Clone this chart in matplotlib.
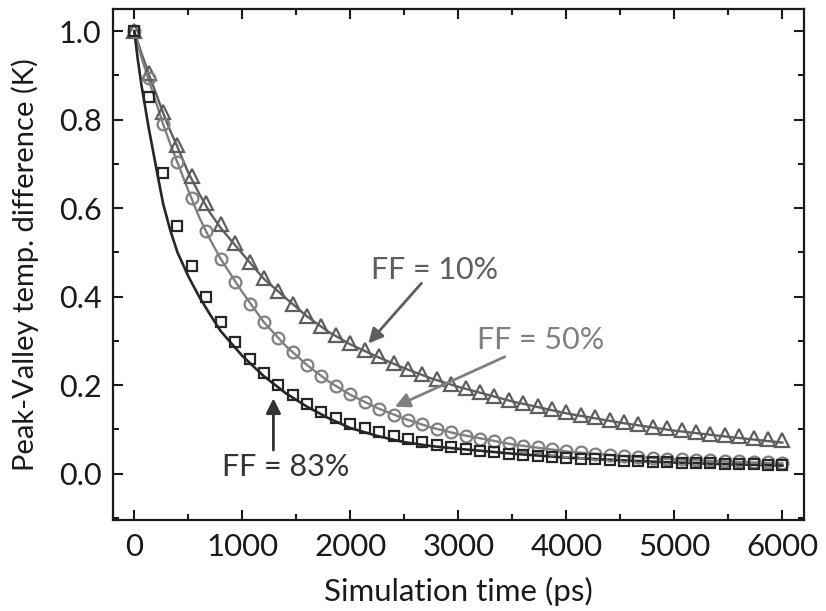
import numpy as np
import matplotlib
matplotlib.use("Agg")
import matplotlib.pyplot as plt
from matplotlib.ticker import MultipleLocator, FormatStrFormatter

plt.rcParams['font.family'] = ['Lato', 'DejaVu Sans']

# Simulation samples (ps), one every 6000/45 ps
t_sim = [0, 133, 267, 400, 533, 667, 800, 933, 1067, 1200, 1333, 1467, 1600,
         1733, 1867, 2000, 2133, 2267, 2400, 2533, 2667, 2800, 2933, 3067,
         3200, 3333, 3467, 3600, 3733, 3867, 4000, 4133, 4267, 4400, 4533,
         4667, 4800, 4933, 5067, 5200, 5333, 5467, 5600, 5733, 5867, 6000]

ff10_sim = [1.000, 0.905, 0.818, 0.742, 0.672, 0.612, 0.563, 0.520, 0.478,
            0.443, 0.412, 0.383, 0.357, 0.334, 0.313, 0.295, 0.280, 0.265,
            0.251, 0.237, 0.225, 0.213, 0.203, 0.193, 0.184, 0.175, 0.167,
            0.159, 0.152, 0.145, 0.139, 0.133, 0.127, 0.121, 0.116, 0.111,
            0.106, 0.102, 0.098, 0.094, 0.090, 0.087, 0.084, 0.081, 0.078, 0.075]

ff50_sim = [1.000, 0.895, 0.790, 0.705, 0.622, 0.548, 0.485, 0.432, 0.384,
            0.342, 0.306, 0.274, 0.245, 0.220, 0.198, 0.179, 0.162, 0.147,
            0.133, 0.121, 0.111, 0.101, 0.093, 0.086, 0.079, 0.073, 0.068,
            0.063, 0.059, 0.055, 0.051, 0.048, 0.045, 0.042, 0.040, 0.038,
            0.036, 0.034, 0.033, 0.031, 0.030, 0.029, 0.028, 0.027, 0.026, 0.025]

ff83_sim = [1.000, 0.850, 0.680, 0.560, 0.470, 0.400, 0.343, 0.297, 0.258,
            0.227, 0.200, 0.178, 0.157, 0.140, 0.126, 0.113, 0.102, 0.093,
            0.085, 0.078, 0.071, 0.065, 0.060, 0.056, 0.052, 0.048, 0.045,
            0.042, 0.040, 0.038, 0.036, 0.034, 0.032, 0.031, 0.029, 0.028,
            0.027, 0.026, 0.025, 0.024, 0.023, 0.022, 0.021, 0.021, 0.020, 0.019]

# Model curves
t_model = [0, 33, 67, 100, 133, 200, 267, 333, 400, 500, 600, 700, 800, 1000,
           1200, 1400, 1600, 1800, 2000, 2250, 2500, 2750, 3000, 3500, 4000,
           4500, 5000, 5500, 6000]

ff10_model = [1.000, 0.975, 0.950, 0.927, 0.903, 0.860, 0.815, 0.775, 0.738,
              0.680, 0.633, 0.590, 0.555, 0.497, 0.440, 0.397, 0.355, 0.320,
              0.292, 0.264, 0.238, 0.215, 0.196, 0.163, 0.136, 0.115, 0.097,
              0.083, 0.070]

ff50_model = [1.000, 0.970, 0.940, 0.915, 0.890, 0.840, 0.790, 0.745, 0.703,
              0.640, 0.580, 0.530, 0.485, 0.410, 0.342, 0.289, 0.245, 0.208,
              0.178, 0.148, 0.124, 0.104, 0.089, 0.066, 0.050, 0.040, 0.032,
              0.027, 0.023]

ff83_model = [1.000, 0.935, 0.877, 0.830, 0.782, 0.695, 0.610, 0.550, 0.500,
              0.446, 0.400, 0.360, 0.322, 0.266, 0.220, 0.182, 0.151, 0.125,
              0.103, 0.085, 0.071, 0.062, 0.056, 0.045, 0.036, 0.030, 0.025,
              0.021, 0.018]

c10 = '#5e5e5e'
c50 = '#808080'
c83 = '#262626'
ink = '#1a1a1a'

fig = plt.figure(figsize=(8.26, 6.11), dpi=100)
ax = fig.add_axes([0.1364, 0.1489, 0.9734 - 0.1364, 0.9853 - 0.1489])

ax.plot(t_model, ff10_model, '-', color=c10, lw=1.7, zorder=2)
ax.plot(t_model, ff50_model, '-', color=c50, lw=1.7, zorder=2)
ax.plot(t_model, ff83_model, '-', color=c83, lw=1.9, zorder=2)

ax.plot(t_sim, ff10_sim, '^', ls='none', mfc='none', mec=c10, mew=1.6, ms=9.5, zorder=3)
ax.plot(t_sim, ff50_sim, 'o', ls='none', mfc='none', mec=c50, mew=1.6, ms=8.5, zorder=3)
ax.plot(t_sim, ff83_sim, 's', ls='none', mfc='none', mec=c83, mew=1.6, ms=7.5, zorder=3)

ax.set_xlim(-200, 6200)
ax.set_ylim(-0.105, 1.05)
ax.xaxis.set_major_locator(MultipleLocator(1000))
ax.xaxis.set_minor_locator(MultipleLocator(500))
ax.yaxis.set_major_locator(MultipleLocator(0.2))
ax.yaxis.set_minor_locator(MultipleLocator(0.1))
ax.yaxis.set_major_formatter(FormatStrFormatter('%.1f'))

ax.tick_params(which='both', direction='in', top=True, right=True, width=1.5,
               colors=ink)
ax.tick_params(which='major', length=7)
ax.tick_params(which='minor', length=4)
ax.tick_params(axis='x', labelsize=22.5, pad=9)
ax.tick_params(axis='y', labelsize=22, pad=8)
for s in ax.spines.values():
    s.set_linewidth(1.6)
    s.set_color(ink)

ax.set_xlabel('Simulation time (ps)', fontsize=22.5, color=ink, labelpad=12)
ax.set_ylabel('Peak-Valley temp. difference (K)', fontsize=21, color=ink, labelpad=14)

arrow_kw = dict(arrowstyle='-|>', mutation_scale=22, lw=2.0, shrinkA=0, shrinkB=0)

ax.text(2783, 0.46, 'FF = 10%', fontsize=22, color=c10, ha='center', va='center')
ax.annotate('', xy=(2166, 0.294), xytext=(2658, 0.430),
            arrowprops=dict(color=c10, **arrow_kw))

ax.text(3763, 0.301, 'FF = 50%', fontsize=22, color=c50, ha='center', va='center')
ax.annotate('', xy=(2413, 0.151), xytext=(3430, 0.264),
            arrowprops=dict(color=c50, **arrow_kw))

ax.text(1405, 0.015, 'FF = 83%', fontsize=22, color='#333333', ha='center', va='center')
ax.annotate('', xy=(1288, 0.170), xytext=(1288, 0.053),
            arrowprops=dict(color='#333333', **arrow_kw))

fig.savefig('out.png', dpi=100)
